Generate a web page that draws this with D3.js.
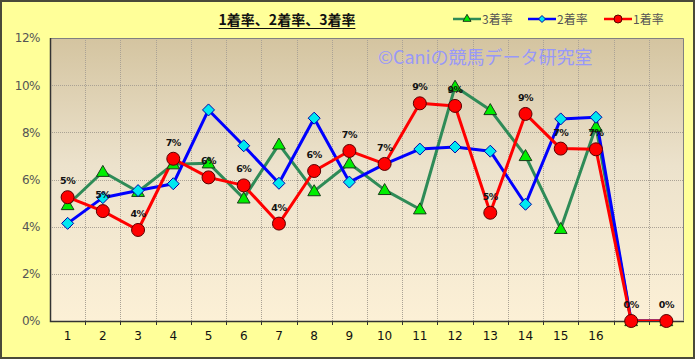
<!DOCTYPE html>
<html><head><meta charset="utf-8">
<script src="https://cdn.jsdelivr.net/npm/d3@7"></script>
<style>body{margin:0;background:#fff}svg{display:block}</style>
</head><body>
<script>
const categories = ["1","2","3","4","5","6","7","8","9","10","11","12","13","14","15","16","",""];
const win1 = [5.25,4.66,3.86,6.88,6.09,5.75,4.13,6.36,7.21,6.66,9.23,9.12,4.59,8.78,7.31,7.28,0,0];
const win2 = [4.14,5.23,5.53,5.82,8.95,7.43,5.84,8.60,5.89,6.65,7.29,7.38,7.20,4.95,8.57,8.64,0,0];
const win3 = [4.92,6.33,5.48,6.65,6.69,5.20,7.49,5.51,6.69,5.56,4.74,9.94,8.95,7.00,3.91,8.24,0,0];
const yTicks = [0,2,4,6,8,10,12];
const title = "1着率、2着率、3着率";
const seriesNames = ["3着率","2着率","1着率"];
const watermark = "©Caniの競馬データ研究室";

const W=696,H=360;
const M={left:50,top:38,right:684,bottom:321};
const svg=d3.select("body").append("svg").attr("width",W).attr("height",H)
  .style("font-family","'Noto Sans CJK JP','DejaVu Sans',sans-serif");
const defs=svg.append("defs");
const g=defs.append("linearGradient").attr("id","bg").attr("x1",0).attr("y1",0).attr("x2",0).attr("y2",1);
g.append("stop").attr("offset","0%").attr("stop-color","#d4c4a0");
g.append("stop").attr("offset","45%").attr("stop-color","#ece2cc");
g.append("stop").attr("offset","100%").attr("stop-color","#fcf0d6");
defs.append("clipPath").attr("id","clip").append("rect")
  .attr("x",M.left).attr("y",M.top).attr("width",M.right-M.left).attr("height",M.bottom-M.top);

svg.append("rect").attr("x",1).attr("y",1).attr("width",W-3).attr("height",H-3)
  .attr("fill","#ffff99").attr("stroke","#4a4a3a").attr("stroke-width",2);

const x=d3.scaleBand().domain(d3.range(categories.length)).range([M.left,M.right]);
const y=d3.scaleLinear().domain([0,12]).range([M.bottom,M.top]);

svg.append("rect").attr("x",M.left).attr("y",M.top).attr("width",M.right-M.left).attr("height",M.bottom-M.top)
  .attr("fill","url(#bg)");

// grid
const grid=svg.append("g").attr("stroke","#aaa295").attr("stroke-width",1).attr("stroke-dasharray","1,1");
yTicks.slice(1,-1).forEach(t=>grid.append("line").attr("x1",M.left).attr("x2",M.right).attr("y1",Math.round(y(t))+0.5).attr("y2",Math.round(y(t))+0.5));
d3.range(1,categories.length).forEach(i=>grid.append("line").attr("x1",Math.round(x(i))+0.5).attr("x2",Math.round(x(i))+0.5).attr("y1",M.top).attr("y2",M.bottom));

// plot border
svg.append("path").attr("d",`M${M.left+0.5},${M.top+0.5}H${M.right-0.5}V${M.bottom-0.5}`).attr("fill","none").attr("stroke","#808080");

// watermark
svg.append("text").attr("x",378).attr("y",64).attr("fill","#9898f8").attr("font-size",18).text(watermark);

// axes
const yAxis=svg.append("g").attr("transform",`translate(${M.left},0)`)
  .call(d3.axisLeft(y).tickValues(yTicks).tickFormat(d=>d+"%").tickSize(0).tickPadding(10));
yAxis.select(".domain").remove();
yAxis.selectAll("text").attr("font-size",12).attr("fill","#555").attr("font-family","'DejaVu Sans',sans-serif").style("letter-spacing","-0.5px");
const xAxis=svg.append("g").attr("transform",`translate(0,${M.bottom})`)
  .call(d3.axisBottom(x).tickFormat(i=>categories[i]).tickSize(0).tickPadding(10));
xAxis.select(".domain").remove();
xAxis.selectAll("text").attr("font-size",12).attr("fill","#111").attr("font-family","'DejaVu Sans',sans-serif");
// axis lines and tick marks
svg.append("path").attr("d",`M${M.left+0.5},${M.top}V${M.bottom+0.5}H${M.right}`).attr("fill","none").attr("stroke","#333").attr("stroke-width",1.5);
d3.range(1,categories.length).forEach(i=>svg.append("line").attr("x1",Math.round(x(i))+0.5).attr("x2",Math.round(x(i))+0.5).attr("y1",M.bottom).attr("y2",M.bottom+4).attr("stroke","#333"));

const cx=i=>x(i)+x.bandwidth()/2;
const line=d3.line().x((d,i)=>cx(i)).y(d=>y(d));
const series=[
  {data:win3,stroke:"#2e8b57",fill:"#00ee00",mstroke:"#1a3a1a",shape:"tri"},
  {data:win2,stroke:"#0000ff",fill:"#00e8f0",mstroke:"#0000aa",shape:"dia"},
  {data:win1,stroke:"#ff0000",fill:"#ff0000",mstroke:"#5a0000",shape:"circ"}
];
series.forEach(s=>{
  svg.append("path").datum(s.data).attr("d",line).attr("fill","none").attr("stroke",s.stroke)
    .attr("stroke-width",3).attr("stroke-linejoin","round").attr("clip-path","url(#clip)");
});
function marker(sel,s,px,py){
  if(s.shape==="tri") sel.append("path").attr("d",d3.symbol(d3.symbolTriangle,70)()).attr("transform",`translate(${px},${py+1})`).attr("fill",s.fill).attr("stroke",s.mstroke).attr("stroke-width",1);
  else if(s.shape==="dia") sel.append("path").attr("d","M0,-6L6,0L0,6L-6,0Z").attr("transform",`translate(${px},${py})`).attr("fill",s.fill).attr("stroke",s.mstroke).attr("stroke-width",1);
  else sel.append("circle").attr("cx",px).attr("cy",py).attr("r",6.5).attr("fill",s.fill).attr("stroke",s.mstroke).attr("stroke-width",1);
}
series.forEach(s=>{
  const gm=svg.append("g");
  s.data.forEach((v,i)=>marker(gm,s,cx(i),y(v)));
});
// data labels for 1着率
svg.append("g").selectAll("text").data(win1).join("text")
  .attr("x",(d,i)=>cx(i)).attr("y",d=>y(d)-13).attr("text-anchor","middle")
  .attr("font-size",9.5).attr("font-weight","bold").attr("fill","#111").attr("font-family","'DejaVu Sans',sans-serif")
  .style("letter-spacing","-0.5px")
  .text(d=>Math.round(d)+"%");

// title
const tt=svg.append("text").attr("x",287).attr("y",25).attr("text-anchor","middle").attr("font-size",14).attr("font-weight","bold").attr("fill","#111").text(title);
const bb=tt.node().getBBox();
svg.append("line").attr("x1",bb.x).attr("x2",bb.x+bb.width).attr("y1",28.5).attr("y2",28.5).attr("stroke","#111").attr("stroke-width",1);

// legend
const leg=[{s:series[0],x:453},{s:series[1],x:528},{s:series[2],x:604}];
leg.forEach((l,k)=>{
  const gl=svg.append("g");
  gl.append("line").attr("x1",l.x).attr("x2",l.x+28).attr("y1",19).attr("y2",19).attr("stroke",l.s.stroke).attr("stroke-width",2.5);
  const ms={...l.s};
  if(ms.shape==="tri") gl.append("path").attr("d",d3.symbol(d3.symbolTriangle,28)()).attr("transform",`translate(${l.x+14},19)`).attr("fill",ms.fill).attr("stroke",ms.mstroke);
  else if(ms.shape==="dia") gl.append("path").attr("d","M0,-3.5L3.5,0L0,3.5L-3.5,0Z").attr("transform",`translate(${l.x+14},19)`).attr("fill",ms.fill).attr("stroke",ms.mstroke);
  else gl.append("circle").attr("cx",l.x+14).attr("cy",19).attr("r",4).attr("fill",ms.fill).attr("stroke",ms.mstroke);
  gl.append("text").attr("x",l.x+29).attr("y",24).attr("font-size",12).attr("fill","#555").text(seriesNames[k]);
});
</script>
</body></html>
